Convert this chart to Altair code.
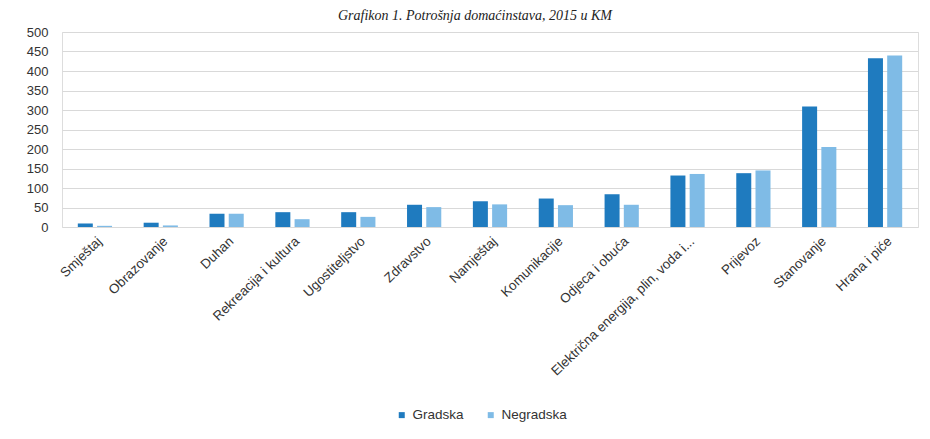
import altair as alt
import pandas as pd

categories = ["Smještaj", "Obrazovanje", "Duhan", "Rekreacija i kultura", "Ugostiteljstvo",
              "Zdravstvo", "Namještaj", "Komunikacije", "Odjeca i obuća",
              "Električna energija, plin, voda i...", "Prijevoz", "Stanovanje", "Hrana i piće"]
gradska = [9, 11, 34, 38, 38, 57, 66, 73, 84, 132, 138, 309, 433]
negradska = [3, 4, 34, 20, 26, 51, 58, 56, 57, 136, 145, 205, 440]
series = ["Gradska", "Negradska"]
colors = ["#1f7bbf", "#7fbbe6"]

rows = []
for c, g, n in zip(categories, gradska, negradska):
    rows.append({"kategorija": c, "serija": "Gradska", "vrijednost": g})
    rows.append({"kategorija": c, "serija": "Negradska", "vrijednost": n})
df = pd.DataFrame(rows)

font = "Liberation Sans"

chart = alt.Chart(df).mark_bar().encode(
    x=alt.X("kategorija:N", sort=categories, title=None,
            scale=alt.Scale(paddingInner=0.48, paddingOuter=0.24),
            axis=alt.Axis(labelAngle=-44, labelFontSize=13.4, labelColor="#333333",
                          labelFont=font, ticks=False, domain=False, labelPadding=7,
                          labelLimit=300)),
    xOffset=alt.XOffset("serija:N", sort=series, scale=alt.Scale(paddingInner=0.22)),
    y=alt.Y("vrijednost:Q", title=None,
            scale=alt.Scale(domain=[0, 500]),
            axis=alt.Axis(values=list(range(0, 501, 50)), labelFontSize=13,
                          labelColor="#333333", labelFont=font, ticks=False,
                          domain=False, labelPadding=14, gridColor="#d9d9d9")),
    color=alt.Color("serija:N", sort=series, title=None,
                    scale=alt.Scale(domain=series, range=colors),
                    legend=alt.Legend(orient="none", legendX=333, legendY=376,
                                      direction="horizontal", symbolType="square",
                                      symbolSize=36, labelFontSize=13.5, labelFont=font,
                                      labelColor="#333333", columnPadding=20,
                                      symbolOffset=0)),
).properties(
    width=856,
    height=195,
    title=alt.Title("Grafikon 1. Potrošnja domaćinstava, 2015 u KM", font="Liberation Serif",
                    fontStyle="italic", fontWeight="normal", fontSize=14, color="#222222",
                    anchor="middle", offset=3, dx=-15),
    autosize=alt.AutoSizeParams(type="none"),
    padding={"left": 54, "top": 24, "right": 4, "bottom": 195},
).configure_view(stroke=None).configure(background="white")

chart.save("out.html", embed_options={"renderer": "svg", "actions": False})
